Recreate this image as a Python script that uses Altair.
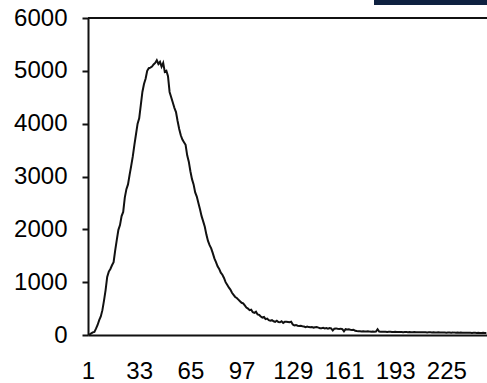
import altair as alt
import pandas as pd

# histogram counts for x = 1 .. 250
counts = [
    0, 10, 30, 50, 60, 120, 190, 280, 350, 470,
    650, 850, 1100, 1200, 1250, 1320, 1380, 1600, 1800, 1990,
    2080, 2250, 2330, 2600, 2760, 2850, 3030, 3200, 3380, 3600,
    3800, 4000, 4100, 4350, 4600, 4750, 4850, 5000, 5050, 5060,
    5080, 5120, 5150, 5200, 5130, 5170, 5080, 5150, 4980, 5000,
    4900, 4600, 4500, 4400, 4300, 4220, 4050, 3900, 3780, 3700,
    3650, 3600, 3400, 3280, 3100, 2950, 2850, 2700, 2620, 2500,
    2380, 2250, 2150, 2050, 1900, 1780, 1700, 1640, 1550, 1450,
    1380, 1300, 1250, 1180, 1140, 1080, 1000, 950, 900, 860,
    800, 760, 720, 700, 670, 640, 610, 600, 560, 520,
    500, 470, 480, 430, 420, 440, 390, 380, 350, 330,
    340, 300, 310, 280, 270, 280, 260, 250, 270, 245,
    240, 260, 230, 250, 250, 245, 240, 250, 200, 180,
    190, 175, 170, 175, 165, 160, 150, 160, 150, 145,
    150, 140, 145, 150, 140, 130, 130, 135, 125, 130,
    120, 130, 125, 85, 120, 125, 118, 115, 120, 110,
    70, 110, 105, 108, 100, 95, 100, 80, 75, 72,
    70, 68, 72, 65, 66, 70, 64, 62, 66, 63,
    65, 110, 64, 62, 60, 63, 61, 58, 62, 60,
    58, 57, 60, 56, 58, 55, 57, 54, 56, 55,
    53, 56, 54, 52, 55, 53, 51, 54, 52, 50,
    53, 51, 49, 52, 50, 48, 51, 49, 47, 50,
    48, 46, 49, 47, 45, 48, 46, 44, 47, 45,
    44, 46, 43, 45, 42, 44, 43, 41, 44, 42,
    40, 43, 41, 39, 42, 40, 38, 41, 39, 40,
]
xs = list(range(1, len(counts) + 1))
x_ticks = [1, 33, 65, 97, 129, 161, 193, 225]
y_ticks = [0, 1000, 2000, 3000, 4000, 5000, 6000]

df = pd.DataFrame({"x": xs, "count": counts})

W, H = 399, 317
FONT = "Liberation Sans"
FS = 24

base = alt.Chart(df)

line = base.mark_line(color="#111111", strokeWidth=2, clip=True).encode(
    x=alt.X(
        "x:Q",
        scale=alt.Scale(domain=[1, 250.4], nice=False, zero=False),
        axis=alt.Axis(
            values=x_ticks, format="d", title=None, grid=False,
            domainColor="#111111", domainWidth=2, ticks=False,
            labelPadding=24, labelFontSize=FS, labelFont=FONT,
            labelColor="#000000", labelFlush=False,
        ),
    ),
    y=alt.Y(
        "count:Q",
        scale=alt.Scale(domain=[0, 6000], nice=False),
        axis=alt.Axis(
            values=y_ticks, format="d", title=None, grid=False,
            domainColor="#111111", domainWidth=2, tickColor="#111111",
            tickWidth=2, tickSize=6, labelPadding=15, labelFontSize=FS,
            labelFont=FONT, labelColor="#000000",
        ),
    ),
)

top_rule = base.mark_rule(color="#111111", strokeWidth=2).encode(
    x=alt.value(0), x2=alt.value(W), y=alt.value(0)
)

banner = base.mark_rect(color="#0e2140", clip=False).encode(
    x=alt.value(286), x2=alt.value(400), y=alt.value(-20), y2=alt.value(-13)
)

chart = (
    alt.layer(line, top_rule, banner)
    .properties(
        width=W,
        height=H,
        autosize=alt.AutoSizeParams(type="none"),
        padding={"left": 88, "top": 18, "right": 0, "bottom": 48},
    )
    .configure_view(stroke=None)
    .configure(background="white")
)

chart.save("out.html", embed_options={"renderer": "svg", "actions": False})
